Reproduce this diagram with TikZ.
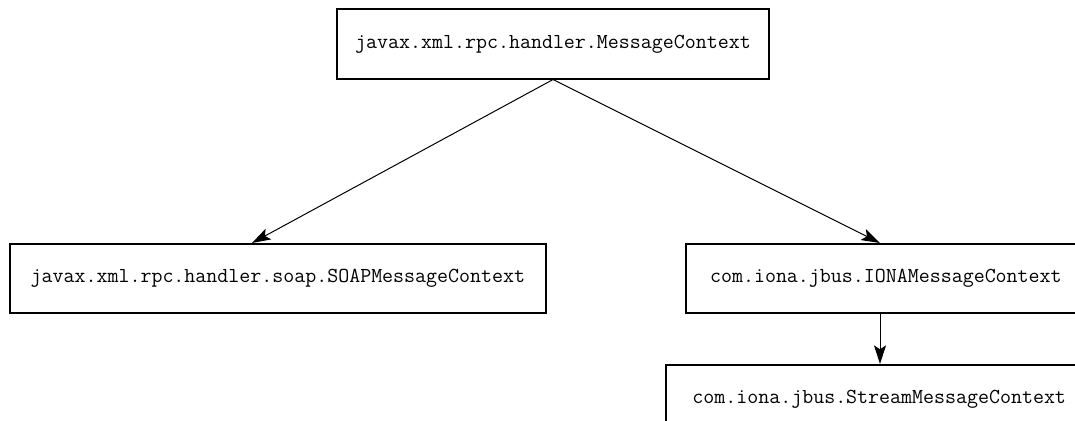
\documentclass[tikz,border=0pt]{standalone}
\usepackage{fontspec}
\usetikzlibrary{arrows.meta}

\tikzset{every picture/.style={line width=0.75pt}}
\tikzset{
	classbox/.style={draw, line width=1.3pt, minimum height=52pt, inner xsep=8pt,
		font=\ttfamily\fontsize{16}{18}\selectfont},
	inherit/.style={-{Stealth[length=14pt,width=9pt,inset=3pt]}}
}

\begin{document}
\begin{tikzpicture}[x=0.75pt,y=0.75pt,yscale=-1,xscale=1]
		\useasboundingbox (0,0) rectangle (1075,421);
		
		%Shape: Rectangle [id:msgctx] 
		\node [classbox, minimum width=324pt] (msgctx) at (553,44) {javax.xml.rpc.handler.MessageContext};
		%Shape: Rectangle [id:soapctx] 
		\node [classbox, anchor=north west, minimum width=402pt] (soapctx) at (9,243) {javax.xml.rpc.handler.soap.SOAPMessageContext};
		%Shape: Rectangle [id:ionactx] 
		\node [classbox, anchor=north west, minimum width=300pt] (ionactx) at (685,243) {com.iona.jbus.IONAMessageContext};
		%Shape: Rectangle [id:streamctx] 
		\node [classbox, anchor=north west, minimum width=320pt] (streamctx) at (665,364) {com.iona.jbus.StreamMessageContext};
		
		\draw [inherit]   (msgctx.south) -- (soapctx.north -| 252,0) ;
		\draw [inherit]   (msgctx.south) -- (ionactx.north -| 880,0) ;
		\draw [inherit]   (ionactx.south -| 880,0) -- (streamctx.north -| 880,0) ;
		
\end{tikzpicture}
\end{document}
